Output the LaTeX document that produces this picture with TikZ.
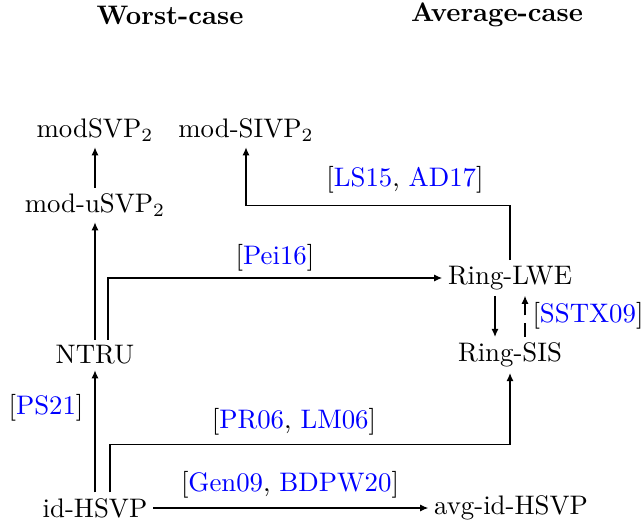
\documentclass[tikz,border=0pt]{standalone}
\usetikzlibrary{arrows.meta,calc}
\definecolor{citeblue}{RGB}{0,0,255}
\newcommand{\cit}[1]{\textcolor{citeblue}{#1}}
\begin{document}
\begin{tikzpicture}[x=0.3731pt,y=-0.3731pt,
  prob/.style={inner sep=2pt},
  head/.style={font=\bfseries},
  lbl/.style={inner sep=0pt},
  arr/.style={-{Latex[length=3pt,width=2.6pt]}}]
\useasboundingbox (0,0) rectangle (643,525);
\node[head] (wc) at (170,15) {Worst-case};
\node[head] (ac) at (497,15) {Average-case};
\node[prob] (modsvp) at (95,130) {modSVP$_2$};
\node[prob] (msivp) at (246,130) {mod-SIVP$_2$};
\node[prob] (musvp) at (95,205) {mod-uSVP$_2$};
\node[prob] (ntru) at (95,355) {NTRU};
\node[prob] (rlwe) at (510,278) {Ring-LWE};
\node[prob] (rsis) at (510,355) {Ring-SIS};
\node[prob] (idh) at (95,508) {id-HSVP};
\node[prob] (avg) at (511,508) {avg-id-HSVP};
% labels
\node[lbl] (lpei) at (275,258) {[\cit{Pei16}]};
\node[lbl] (lls) at (405,180) {[\cit{LS15}, \cit{AD17}]};
\node[lbl] (lsstx) at (588,316) {[\cit{SSTX09}]};
\node[lbl] (lps) at (46,408) {[\cit{PS21}]};
\node[lbl] (lpr) at (294,422) {[\cit{PR06}, \cit{LM06}]};
\node[lbl] (lgen) at (290,485) {[\cit{Gen09}, \cit{BDPW20}]};
% arrows
\draw[arr] (musvp) -- (modsvp);
\draw[arr] (ntru) -- (musvp);
\draw[arr] ($(ntru.north)+(13,0)$) |- (rlwe.west);
\draw[arr] (rlwe.north) -- ($(rlwe.north)+(0,-55)$) -| (msivp.south);
\draw[arr] ($(rlwe.south)+(-15,0)$) -- ($(rsis.north)+(-15,0)$);
\draw[arr,dash pattern=on 5pt off 3pt] ($(rsis.north)+(15,0)$) -- ($(rlwe.south)+(15,0)$);
\draw[arr] (idh) -- (ntru);
\draw[arr] ($(idh.north)+(15,0)$) -- ($(idh.north)+(15,-48)$) -| (rsis.south);
\draw[arr] (idh) -- (avg);
\end{tikzpicture}
\end{document}
